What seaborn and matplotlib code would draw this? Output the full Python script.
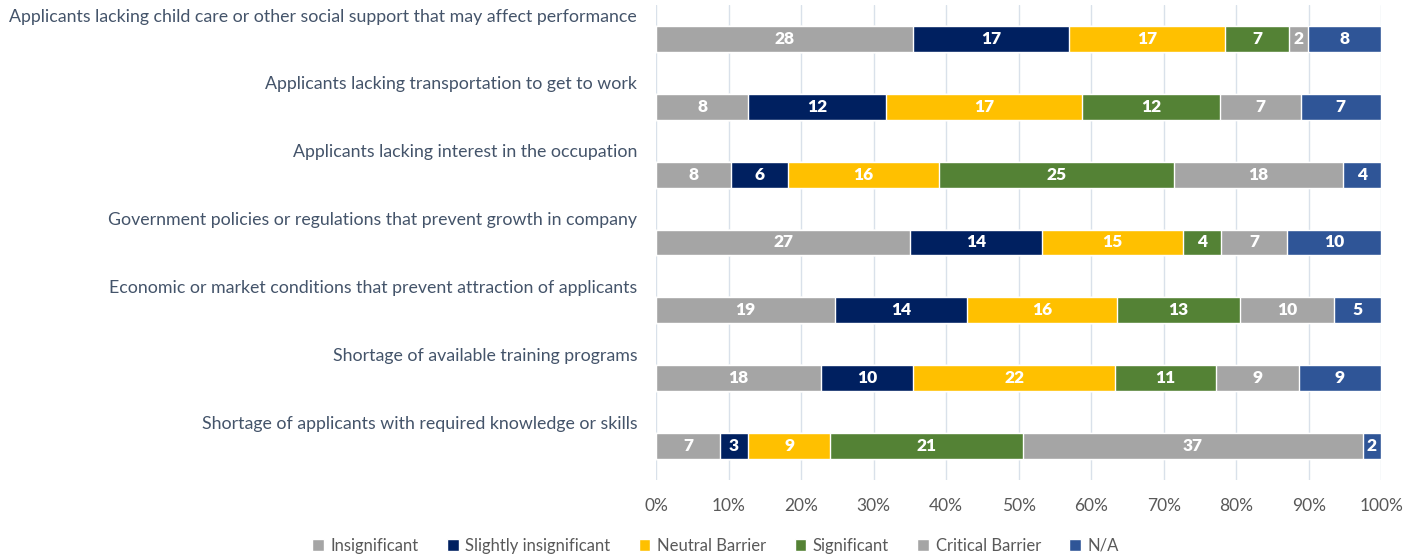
import matplotlib
matplotlib.use("Agg")
import matplotlib.pyplot as plt
import seaborn as sns
import numpy as np
import pandas as pd
from matplotlib.patches import Patch
from matplotlib.ticker import PercentFormatter

categories = [
    "Applicants lacking child care or other social support that may affect performance",
    "Applicants lacking transportation to get to work",
    "Applicants lacking interest in the occupation",
    "Government policies or regulations that prevent growth in company",
    "Economic or market conditions that prevent attraction of applicants",
    "Shortage of available training programs",
    "Shortage of applicants with required knowledge or skills",
]
series = ["Insignificant", "Slightly insignificant", "Neutral Barrier",
          "Significant", "Critical Barrier", "N/A"]
insignificant = [28, 8, 8, 27, 19, 18, 7]
slightly_insignificant = [17, 12, 6, 14, 14, 10, 3]
neutral_barrier = [17, 17, 16, 15, 16, 22, 9]
significant = [7, 12, 25, 4, 13, 11, 21]
critical_barrier = [2, 7, 18, 7, 10, 9, 37]
na = [8, 7, 4, 10, 5, 9, 2]
colors = ["#A5A5A5", "#002060", "#FFC000", "#548235", "#A5A5A5", "#2F5597"]

sns.set_theme(style="white")
plt.rcParams["font.family"] = ["Lato", "DejaVu Sans"]

values = np.array([insignificant, slightly_insignificant, neutral_barrier,
                   significant, critical_barrier, na], dtype=float).T
pct = values / values.sum(axis=1, keepdims=True) * 100
cum = np.cumsum(pct, axis=1)

fig = plt.figure(figsize=(14.17, 5.58), dpi=100)
ax = fig.add_axes([0.463, 0.140, 0.5117, 0.851])

for j in range(len(series) - 1, -1, -1):
    df = pd.DataFrame({"cat": categories, "val": cum[:, j]})
    sns.barplot(data=df, x="val", y="cat", orient="h", color=colors[j],
                saturation=1, width=0.38, ax=ax, zorder=3)

for i in range(len(categories)):
    for j in range(len(series)):
        start = cum[i, j] - pct[i, j]
        ax.text(start + pct[i, j] / 2, i, f"{int(values[i, j])}",
                ha="center", va="center", color="white",
                fontsize=12.5, fontweight="heavy", zorder=4)

trans = ax.get_yaxis_transform()
for i, c in enumerate(categories):
    ax.text(-0.026, i - 0.33, c, transform=trans, ha="right", va="center",
            fontsize=12.8, color="#44546A")

ax.set_xlim(0, 100)
ax.set_ylim(6.5, -0.5)
ax.set_xticks(np.arange(0, 101, 10))
ax.xaxis.set_major_formatter(PercentFormatter(decimals=0))
ax.tick_params(axis="x", labelsize=12.5, labelcolor="#595959", length=0, pad=13)
ax.set_yticks([])
ax.set_xlabel("")
ax.set_ylabel("")
ax.grid(axis="x", color="#D9E1EA", linewidth=1, zorder=0)
for s in ax.spines.values():
    s.set_visible(False)

handles = [Patch(facecolor=colors[j], label=series[j]) for j in range(len(series))]
fig.legend(handles=handles, loc="center", bbox_to_anchor=(0.505, 0.022), ncol=6,
           frameon=False, fontsize=12, handlelength=0.7, handleheight=0.7,
           handletextpad=0.4, columnspacing=1.7, labelcolor="#595959")

fig.savefig("out.png", dpi=100)
